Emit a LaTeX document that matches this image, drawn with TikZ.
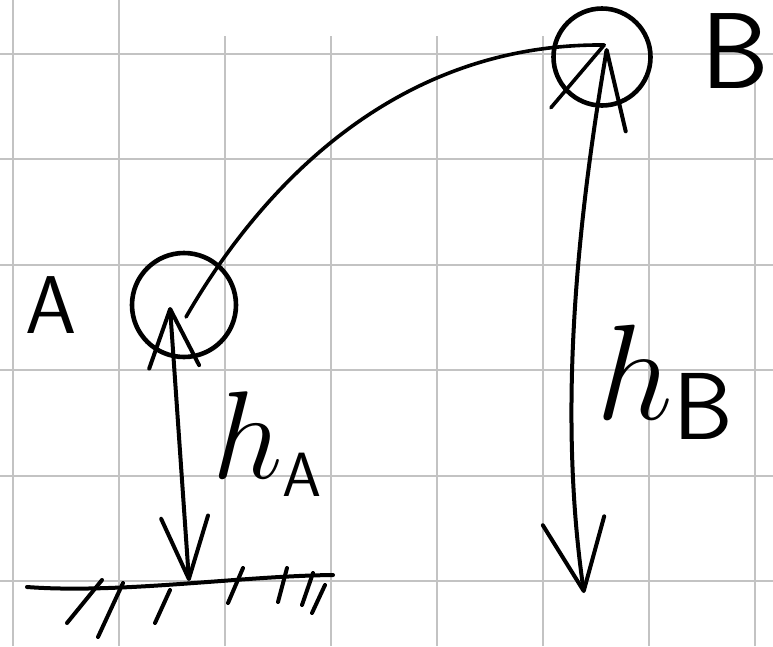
\RequirePackage{fix-cm}
\documentclass[tikz,border=0pt]{standalone}
\usepackage{amsmath}
\usepackage{xcolor}
\usepackage{tikz}
\usetikzlibrary{arrows.meta,positioning}

\definecolor{gridline}{RGB}{195,195,195}

\begin{document}
\begin{tikzpicture}[
    x=1pt, y=-1pt,
    ball/.style={draw, circle, line width=4.6pt, inner sep=0pt},
    ink/.style={line width=4pt, line cap=round, line join=round},
    trajectory/.style={ink, line width=3.6pt,
      arrows={-Straight Barb[harpoon, swap, round, length=53pt, width=126pt]}},
    heightA/.style={ink,
      arrows={Straight Barb[round, length=58pt, width=50pt]-Straight Barb[round, length=62pt, width=47pt]}},
    heightB/.style={ink,
      arrows={Straight Barb[harpoon, swap, round, length=77pt, width=65pt]-Straight Barb[round, length=71pt, width=62pt]}},
    lbl/.style={inner sep=0pt},
  ]
  \useasboundingbox (0,0) rectangle (773,646);
  \fill[white] (0,0) rectangle (773,646);

  % Grid paper
  \foreach \gx/\gtop in {13/0, 119/0, 225/36, 331/36, 437/36, 543/36, 649/53, 755/53}
    \draw[gridline, line width=2pt] (\gx,\gtop) -- (\gx,646);
  \foreach \gy in {53.5, 159, 264.5, 370, 475.5, 581}
    \draw[gridline, line width=2pt] (0,\gy) -- (773,\gy);

  % Balls
  \node[ball, minimum size=104pt] (A) at (184,305) {};
  \node[ball, minimum size=97pt] (B) at (602,57) {};
  \node[lbl, left=53pt of A, font=\sffamily\fontsize{82}{82}\selectfont] (labA) {A};
  \node[lbl, right=48pt of B, yshift=6pt, font=\sffamily\fontsize{108}{108}\selectfont] (labB) {B};

  % Ends of the strokes
  \coordinate (startC) at (186,317);
  \coordinate (endC) at (606,45);
  \coordinate (topA) at (170,307);
  \coordinate (gA) at (189,581);
  \coordinate (topB) at (607,48);
  \coordinate (gB) at (584,593);

  % Path from A to B
  \draw[trajectory] (startC) .. controls (265,180) and (400,44) .. (endC);

  % Heights
  \draw[heightA] (topA) -- (gA);
  \draw[heightB] (topB) .. controls (576.6,225.5) and (558,414) .. (gB);
  \node[lbl, font=\fontsize{125}{125}\selectfont] (labhA) at (267,444)
    {$h_{\scriptscriptstyle\mathsf{A}}$};
  \node[lbl, font=\fontsize{136}{136}\selectfont] (labhB) at (665,382)
    {$h_{\mathsf{B}}$};

  % Ground
  \draw[ink] (27,587) .. controls (120,594) and (240,576) .. (333,575);
  \foreach \xa/\ya/\xb/\yb in {102/580/67/623, 123/583/98/637, 170/590/155/623,
      243/568/228/603, 287/568/278/602, 313/573/302/605, 325/585/312/613}
    \draw[ink] (\xa,\ya) -- (\xb,\yb);
\end{tikzpicture}
\end{document}
